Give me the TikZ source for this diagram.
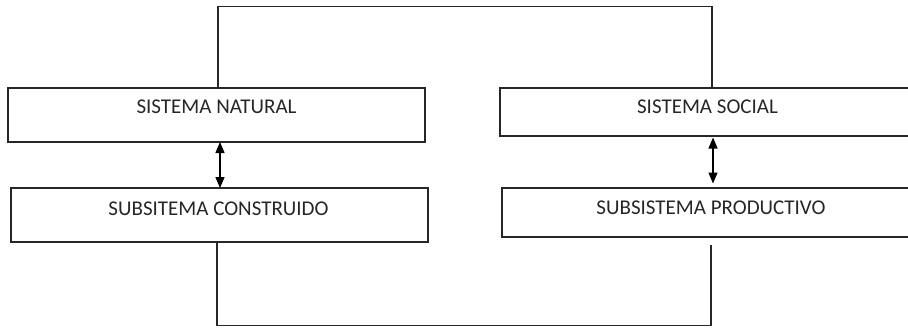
\documentclass[tikz,border=0pt]{standalone}
\usepackage{fontspec}
\setmainfont{Carlito}
\usetikzlibrary{arrows.meta}
\begin{document}
\begin{tikzpicture}[x=1pt,y=-1pt,
  box/.style={draw=black!85,line width=1.3pt},
  lbl/.style={anchor=base,inner sep=0pt,text=black!85,font=\fontsize{21}{25}\selectfont},
  link/.style={draw=black!85,line width=1.3pt},
  dbl/.style={draw=black,line width=1.3pt,{Triangle[width=9pt,length=11pt]}-{Triangle[width=9pt,length=11pt]}}]
\useasboundingbox (0,0) rectangle (908,327);
\clip (0,0) rectangle (908,327);
% boxes
\draw[box] (8,88) rectangle (425,142) node[pos=0.5,inner sep=0pt] (nat) {};
\path (8,88) coordinate (natNW) (425,142) coordinate (natSE);
\draw[box] (500,88) rectangle (916,136);
\path (500,88) coordinate (socNW) (916,136) coordinate (socSE);
\draw[box] (11,188) rectangle (428,242);
\path (11,188) coordinate (conNW) (428,242) coordinate (conSE);
\draw[box] (502,188) rectangle (916,237);
\path (502,188) coordinate (proNW) (916,237) coordinate (proSE);
% labels
\node[lbl] (natT) at (216.5,113) {SISTEMA NATURAL};
\node[lbl] (socT) at (707.5,113) {SISTEMA SOCIAL};
\node[lbl] (conT) at (218.5,215) {SUBSITEMA CONSTRUIDO};
\node[lbl] (proT) at (711,214) {SUBSISTEMA PRODUCTIVO};
% connector coordinates
\coordinate (tl) at (218,6.5);
\coordinate (tr) at (712,6.5);
\coordinate (bl) at (217,325.5);
\coordinate (br) at (711,325.5);
\coordinate (brEnd) at (711,245);
\coordinate (a1) at (220,0);
\coordinate (a2) at (713,0);
% loops
\draw[link] (natNW -| tl) -- (tl) -- (tr) -- (socNW -| tr);
\draw[link] (conSE -| bl) -- (bl) -- (br) -- (brEnd);
% double arrows
\draw[dbl] (natSE -| a1) -- (conNW -| a1);
\draw[dbl,shorten <=1.5pt,shorten >=4.5pt] (socSE -| a2) -- (proNW -| a2);
\end{tikzpicture}
\end{document}
